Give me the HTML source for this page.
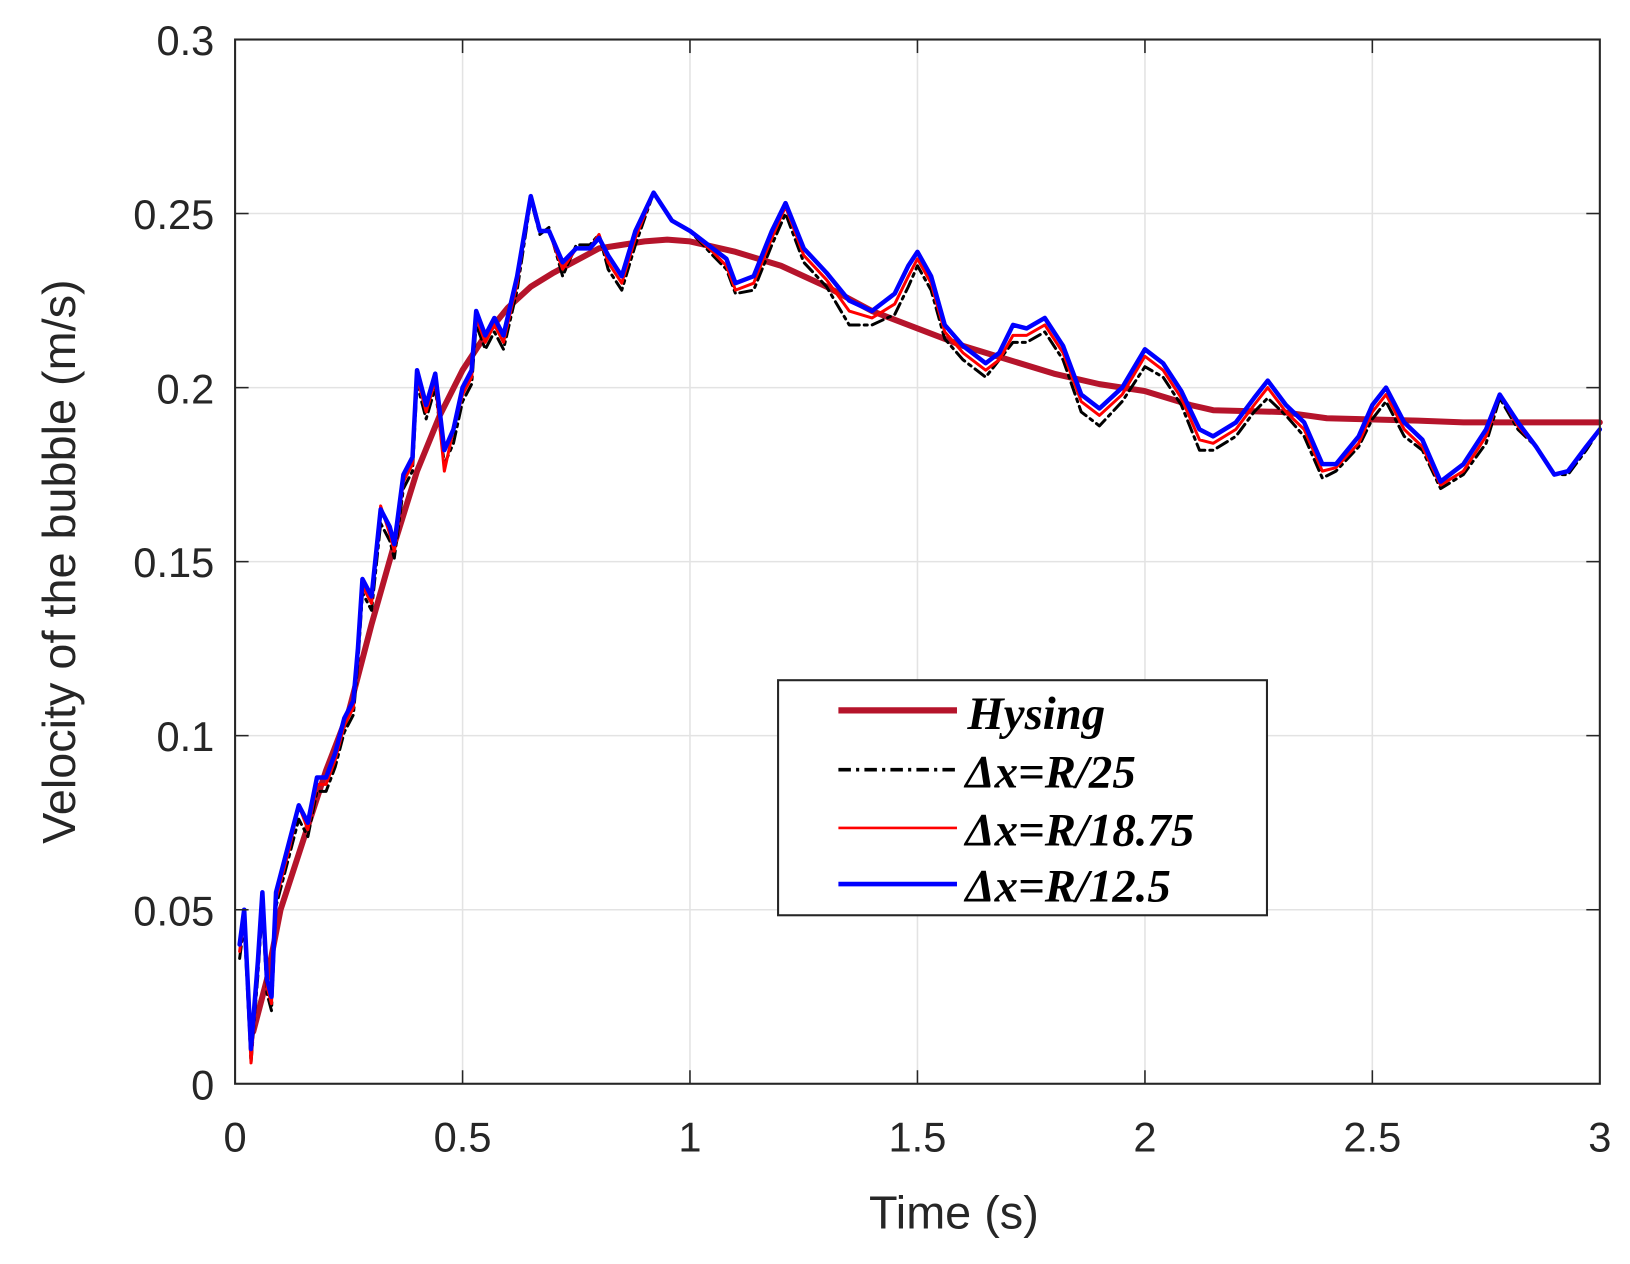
<!DOCTYPE html>
<html><head><meta charset="utf-8"><style>html,body{margin:0;padding:0;background:#fff}svg{display:block}</style></head>
<body>
<svg width="1630" height="1264" viewBox="0 0 1567 1215.3" preserveAspectRatio="none" xmlns="http://www.w3.org/2000/svg">
<rect width="1567" height="1216" fill="#fff"/>
<g stroke="#e3e3e3" stroke-width="1.5">
<line x1="444.7" y1="38" x2="444.7" y2="1042"/><line x1="663.3" y1="38" x2="663.3" y2="1042"/><line x1="882" y1="38" x2="882" y2="1042"/><line x1="1100.7" y1="38" x2="1100.7" y2="1042"/><line x1="1319.3" y1="38" x2="1319.3" y2="1042"/>
<line x1="226" y1="874.7" x2="1538" y2="874.7"/><line x1="226" y1="707.3" x2="1538" y2="707.3"/><line x1="226" y1="540" x2="1538" y2="540"/><line x1="226" y1="372.7" x2="1538" y2="372.7"/><line x1="226" y1="205.3" x2="1538" y2="205.3"/>
</g>
<g transform="translate(226,1042) scale(437.33,-3346.7)" fill="none" stroke-linejoin="round" stroke-linecap="round">
<polyline vector-effect="non-scaling-stroke" stroke="#b5142b" stroke-width="6" points="0.04,0.015 0.07,0.03 0.1,0.05 0.15,0.07 0.2,0.09 0.25,0.107 0.3,0.132 0.35,0.155 0.4,0.176 0.45,0.192 0.5,0.205 0.55,0.215 0.6,0.223 0.65,0.229 0.7,0.233 0.8,0.24 0.9,0.242 0.95,0.2425 1.0,0.242 1.1,0.239 1.2,0.235 1.3,0.229 1.4,0.222 1.5,0.217 1.6,0.212 1.7,0.208 1.8,0.204 1.9,0.201 2.0,0.199 2.1,0.195 2.15,0.1935 2.3,0.193 2.4,0.1912 2.6,0.1905 2.7,0.19 3.0,0.19"/>
<polyline vector-effect="non-scaling-stroke" stroke="#000" stroke-width="3" stroke-dasharray="12,5,3,5" transform="translate(0,-0.004)" points="0.01,0.04 0.02,0.05 0.035,0.01 0.05,0.035 0.06,0.055 0.07,0.03 0.08,0.025 0.09,0.055 0.1,0.06 0.12,0.07 0.14,0.08 0.16,0.075 0.18,0.088 0.2,0.088 0.22,0.095 0.24,0.105 0.26,0.11 0.27,0.125 0.28,0.145 0.3,0.14 0.32,0.165 0.34,0.16 0.35,0.155 0.37,0.175 0.39,0.18 0.4,0.205 0.42,0.195 0.44,0.204 0.46,0.182 0.48,0.188 0.5,0.2 0.52,0.205 0.53,0.222 0.55,0.215 0.57,0.22 0.59,0.215 0.62,0.232 0.65,0.258 0.67,0.248 0.69,0.25 0.72,0.236 0.75,0.245 0.78,0.245 0.8,0.248 0.82,0.238 0.85,0.232 0.88,0.245 0.92,0.26 0.96,0.252 1.0,0.249 1.05,0.242 1.08,0.238 1.1,0.231 1.14,0.232 1.18,0.245 1.21,0.254 1.25,0.24 1.3,0.233 1.35,0.222 1.4,0.222 1.45,0.225 1.48,0.233 1.5,0.239 1.53,0.232 1.56,0.218 1.6,0.212 1.65,0.207 1.68,0.212 1.71,0.217 1.74,0.217 1.78,0.22 1.82,0.212 1.86,0.197 1.9,0.193 1.95,0.2 2.0,0.21 2.04,0.207 2.08,0.199 2.12,0.186 2.15,0.186 2.2,0.19 2.24,0.197 2.27,0.201 2.31,0.196 2.35,0.19 2.39,0.178 2.42,0.18 2.47,0.187 2.5,0.195 2.53,0.2 2.57,0.19 2.61,0.186 2.65,0.175 2.7,0.179 2.75,0.188 2.78,0.201 2.82,0.192 2.86,0.187 2.9,0.179 2.93,0.179 2.97,0.186 3.0,0.192"/>
<polyline vector-effect="non-scaling-stroke" stroke="#ff0000" stroke-width="3" transform="translate(0,-0.002)" points="0.01,0.04 0.02,0.05 0.035,0.008 0.05,0.035 0.06,0.055 0.07,0.03 0.08,0.025 0.09,0.055 0.1,0.06 0.12,0.07 0.14,0.082 0.16,0.075 0.18,0.088 0.2,0.088 0.22,0.095 0.24,0.105 0.26,0.11 0.27,0.125 0.28,0.145 0.3,0.14 0.32,0.168 0.34,0.16 0.35,0.155 0.37,0.175 0.39,0.18 0.4,0.205 0.42,0.195 0.44,0.204 0.46,0.178 0.48,0.19 0.5,0.2 0.52,0.205 0.53,0.222 0.55,0.215 0.57,0.22 0.59,0.215 0.62,0.232 0.65,0.257 0.67,0.247 0.69,0.247 0.72,0.236 0.75,0.242 0.78,0.242 0.8,0.246 0.82,0.238 0.85,0.232 0.88,0.245 0.92,0.258 0.96,0.25 1.0,0.247 1.05,0.241 1.08,0.237 1.1,0.23 1.14,0.232 1.18,0.245 1.21,0.254 1.25,0.24 1.3,0.233 1.35,0.224 1.4,0.222 1.45,0.226 1.48,0.234 1.5,0.239 1.53,0.232 1.56,0.218 1.6,0.212 1.65,0.207 1.68,0.21 1.71,0.217 1.74,0.217 1.78,0.22 1.82,0.212 1.86,0.198 1.9,0.194 1.95,0.2 2.0,0.211 2.04,0.207 2.08,0.199 2.12,0.187 2.15,0.186 2.2,0.19 2.24,0.197 2.27,0.202 2.31,0.195 2.35,0.19 2.39,0.178 2.42,0.179 2.47,0.186 2.5,0.195 2.53,0.2 2.57,0.19 2.61,0.185 2.65,0.174 2.7,0.178 2.75,0.188 2.78,0.2 2.82,0.191 2.86,0.185 2.9,0.177 2.93,0.178 2.97,0.185 3.0,0.19"/>
<polyline vector-effect="non-scaling-stroke" stroke="#0000ff" stroke-width="4.5" points="0.01,0.04 0.02,0.05 0.035,0.01 0.05,0.035 0.06,0.055 0.07,0.03 0.08,0.025 0.09,0.055 0.1,0.06 0.12,0.07 0.14,0.08 0.16,0.075 0.18,0.088 0.2,0.088 0.22,0.095 0.24,0.105 0.26,0.11 0.27,0.125 0.28,0.145 0.3,0.14 0.32,0.165 0.34,0.16 0.35,0.155 0.37,0.175 0.39,0.18 0.4,0.205 0.42,0.195 0.44,0.204 0.46,0.182 0.48,0.188 0.5,0.2 0.52,0.205 0.53,0.222 0.55,0.215 0.57,0.22 0.59,0.215 0.62,0.232 0.65,0.255 0.67,0.245 0.69,0.245 0.72,0.236 0.75,0.24 0.78,0.24 0.8,0.243 0.82,0.238 0.85,0.232 0.88,0.245 0.92,0.256 0.96,0.248 1.0,0.245 1.05,0.24 1.08,0.237 1.1,0.23 1.14,0.232 1.18,0.245 1.21,0.253 1.25,0.24 1.3,0.233 1.35,0.225 1.4,0.222 1.45,0.227 1.48,0.235 1.5,0.239 1.53,0.232 1.56,0.218 1.6,0.212 1.65,0.207 1.68,0.21 1.71,0.218 1.74,0.217 1.78,0.22 1.82,0.212 1.86,0.198 1.9,0.194 1.95,0.2 2.0,0.211 2.04,0.207 2.08,0.199 2.12,0.188 2.15,0.186 2.2,0.19 2.24,0.197 2.27,0.202 2.31,0.195 2.35,0.19 2.39,0.178 2.42,0.178 2.47,0.186 2.5,0.195 2.53,0.2 2.57,0.19 2.61,0.185 2.65,0.173 2.7,0.178 2.75,0.188 2.78,0.198 2.82,0.19 2.86,0.183 2.9,0.175 2.93,0.176 2.97,0.183 3.0,0.188"/>
</g>
<rect x="226" y="38" width="1312" height="1004" fill="none" stroke="#262626" stroke-width="2"/>
<g stroke="#262626" stroke-width="1.5">
<line x1="444.7" y1="1042" x2="444.7" y2="1029"/><line x1="663.3" y1="1042" x2="663.3" y2="1029"/><line x1="882" y1="1042" x2="882" y2="1029"/><line x1="1100.7" y1="1042" x2="1100.7" y2="1029"/><line x1="1319.3" y1="1042" x2="1319.3" y2="1029"/>
<line x1="444.7" y1="38" x2="444.7" y2="51"/><line x1="663.3" y1="38" x2="663.3" y2="51"/><line x1="882" y1="38" x2="882" y2="51"/><line x1="1100.7" y1="38" x2="1100.7" y2="51"/><line x1="1319.3" y1="38" x2="1319.3" y2="51"/>
<line x1="226" y1="874.7" x2="239" y2="874.7"/><line x1="226" y1="707.3" x2="239" y2="707.3"/><line x1="226" y1="540" x2="239" y2="540"/><line x1="226" y1="372.7" x2="239" y2="372.7"/><line x1="226" y1="205.3" x2="239" y2="205.3"/>
<line x1="1538" y1="874.7" x2="1525" y2="874.7"/><line x1="1538" y1="707.3" x2="1525" y2="707.3"/><line x1="1538" y1="540" x2="1525" y2="540"/><line x1="1538" y1="372.7" x2="1525" y2="372.7"/><line x1="1538" y1="205.3" x2="1525" y2="205.3"/>
</g>
<g font-family="Liberation Sans, Arial, sans-serif" font-size="40" fill="#262626">
<g text-anchor="end">
<text x="206" y="1057">0</text><text x="206" y="890">0.05</text><text x="206" y="722">0.1</text><text x="206" y="555">0.15</text><text x="206" y="388">0.2</text><text x="206" y="220">0.25</text><text x="206" y="53">0.3</text>
</g>
<g text-anchor="middle">
<text x="226" y="1107">0</text><text x="444.7" y="1107">0.5</text><text x="663.3" y="1107">1</text><text x="882" y="1107">1.5</text><text x="1100.7" y="1107">2</text><text x="1319.3" y="1107">2.5</text><text x="1538" y="1107">3</text>
<text x="917" y="1181" font-size="45">Time (s)</text>
<text transform="translate(72,540) rotate(-90)" font-size="45">Velocity of the bubble (m/s)</text>
</g>
</g>
<rect x="748" y="654" width="470" height="226" fill="#fff" stroke="#262626" stroke-width="2"/>
<line x1="806" y1="683" x2="920" y2="683" stroke="#b5142b" stroke-width="6"/>
<line x1="806" y1="740" x2="920" y2="740" stroke="#000" stroke-width="3.5" stroke-dasharray="12,5,3,5"/>
<line x1="806" y1="796" x2="920" y2="796" stroke="#ff0000" stroke-width="2.5"/>
<line x1="806" y1="850" x2="920" y2="850" stroke="#0000ff" stroke-width="4.5"/>
<g font-family="Liberation Serif, Times New Roman, serif" font-style="italic" font-weight="bold" font-size="45" fill="#000">
<text x="930" y="701">Hysing</text><text x="928" y="757">Δx=R/25</text><text x="928" y="813">Δx=R/18.75</text><text x="928" y="867">Δx=R/12.5</text>
</g>
</svg>
</body></html>
